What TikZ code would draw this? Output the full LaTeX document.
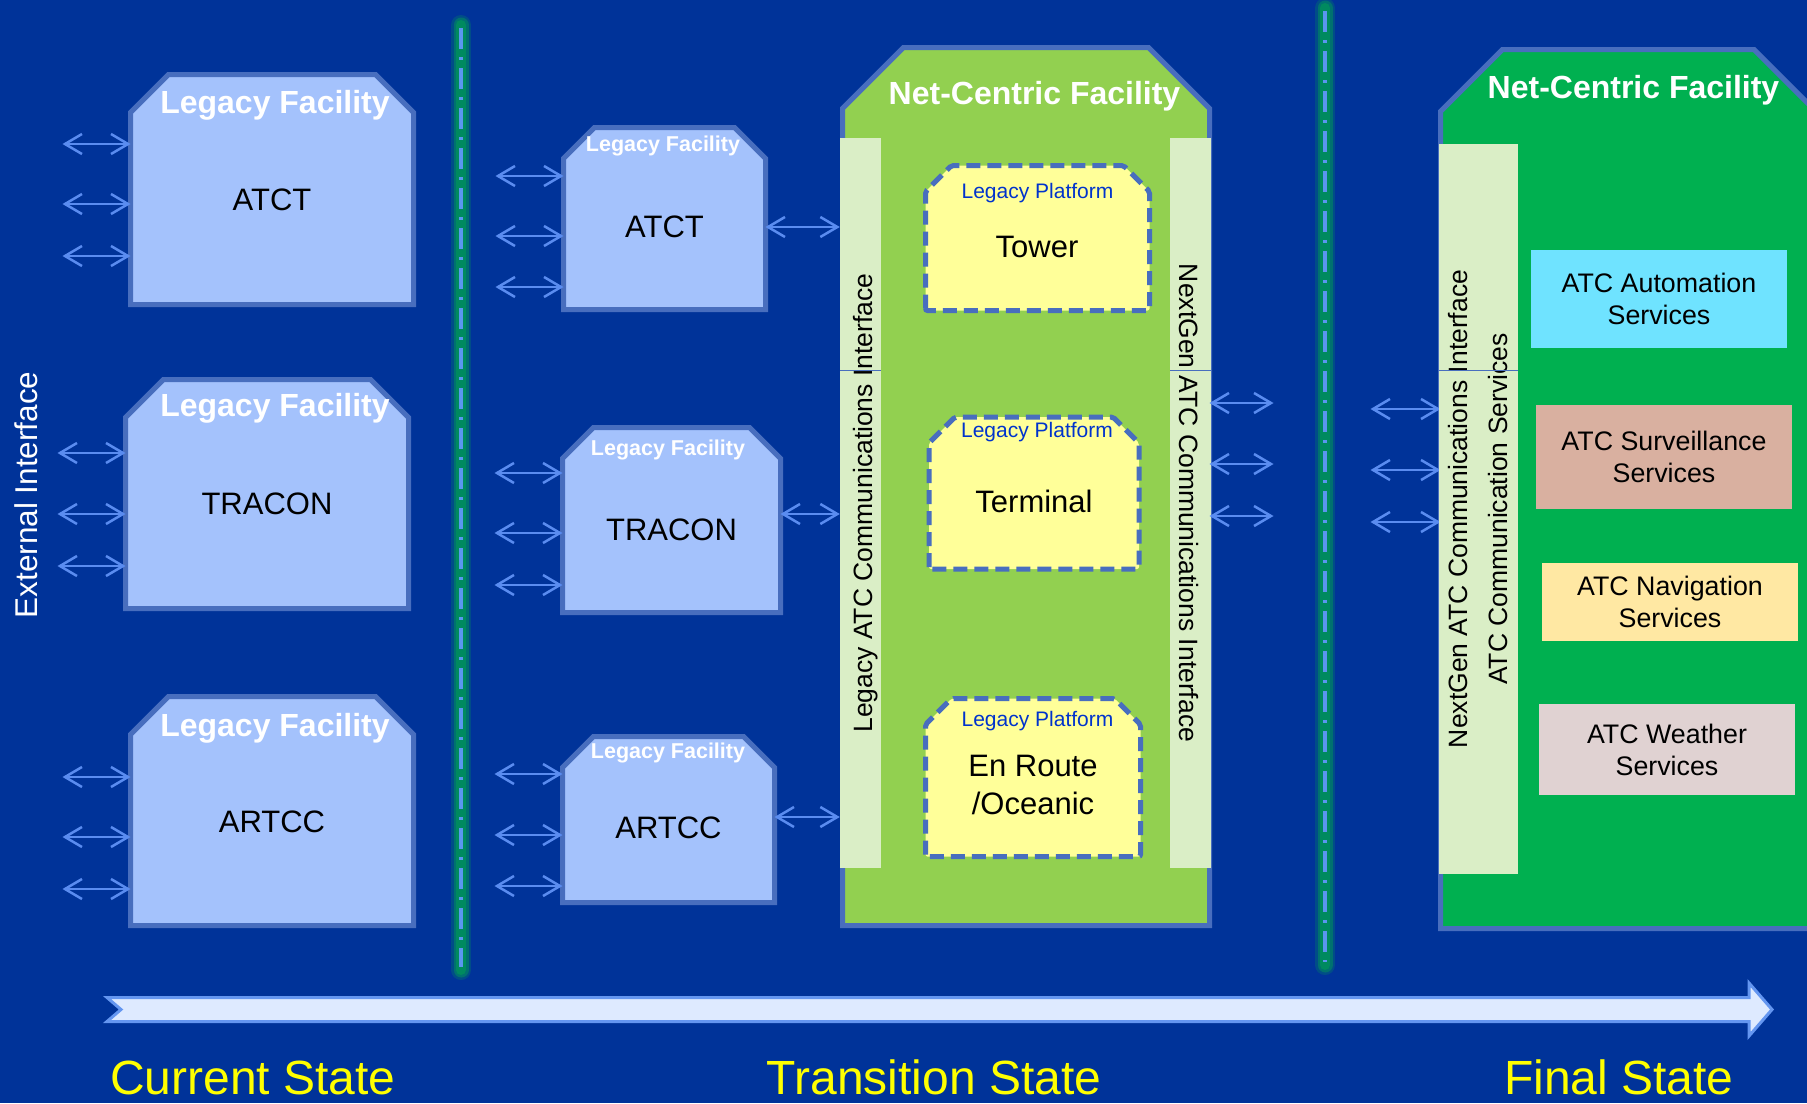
\documentclass[tikz,border=0pt]{standalone}
\usepackage{fontspec}
\setmainfont{Liberation Sans}
\usetikzlibrary{arrows.meta}

\definecolor{bgblue}{RGB}{0,51,153}
\definecolor{edgeblue}{RGB}{72,110,190}
\definecolor{legacyfill}{RGB}{164,194,252}
\definecolor{linkblue}{RGB}{90,140,240}
\definecolor{netgreen}{RGB}{146,208,80}
\definecolor{finalgreen}{RGB}{0,176,80}
\definecolor{stripgreen}{RGB}{218,238,198}
\definecolor{platfill}{RGB}{255,255,153}
\definecolor{plattext}{RGB}{0,51,204}
\definecolor{autocyan}{RGB}{111,227,255}
\definecolor{survtan}{RGB}{217,176,160}
\definecolor{navcream}{RGB}{255,232,163}
\definecolor{wxgray}{RGB}{224,210,210}
\definecolor{glowgreen}{RGB}{0,138,95}
\definecolor{dashblue}{RGB}{90,150,240}
\definecolor{timefill}{RGB}{222,234,255}
\definecolor{timeedge}{RGB}{100,150,240}
\definecolor{stateyellow}{RGB}{255,255,0}

\newcommand{\pxfont}[2]{\fontsize{#1}{#2}\selectfont}
% outline with the two upper corners cut off: node name, cut, style
\newcommand{\cutbox}[3]{%
	\draw [#3] (#1.south west) -- ([yshift=-#2]#1.north west) -- ([xshift=#2]#1.north west)
		-- ([xshift=-#2]#1.north east) -- ([yshift=-#2]#1.north east) -- (#1.south east) -- cycle;}

\tikzset{
	frame/.style = {rectangle, inner sep = 0pt, outer sep = 0pt},
	outline/.style = {draw = edgeblue, line width = 5pt, line join = miter},
	legacy outline/.style = {outline, fill = legacyfill},
	platform outline/.style = {outline, fill = platfill, dash pattern = on 14pt off 7pt, rounded corners = 2pt},
	strip/.style = {rectangle, fill = stripgreen, inner sep = 0pt, minimum width = 730pt, font = \pxfont{26.5}{40}, align = center},
	strip text/.style = {text height = 23pt, text depth = 0pt},
	service/.style = {rectangle, minimum width = 256pt, inner sep = 0pt, align = center, font = \pxfont{26.8}{32}},
	big title/.style = {text = white, font = \bfseries\pxfont{32}{38}},
	small title/.style = {text = white, font = \bfseries\pxfont{21.5}{26}},
	site name/.style = {font = \pxfont{31}{37.5}, align = center},
	platform title/.style = {text = plattext, font = \pxfont{21}{25}},
	link/.style = {<->, draw = linkblue, line width = 2.5pt},
	state/.style = {text = stateyellow, font = \pxfont{48}{57}, anchor = base},
}

\begin{document}
\begin{tikzpicture}[x = 1pt, y = -1pt, >={Straight Barb[length=17pt, width=20pt]}]
	\useasboundingbox (0,0) rectangle (1807,1103);
	\fill [bgblue] (0,0) rectangle (1807,1103);

	\begin{scope}[line cap = round]
		\foreach \x/\ya/\yb in {461/25/970, 1325/8/965} {
			\draw [glowgreen, opacity = 0.3, line width = 20pt] (\x,\ya) -- (\x,\yb);
			\draw [glowgreen, opacity = 0.6, line width = 15pt] (\x,\ya) -- (\x,\yb);
			\draw [glowgreen, line width = 10pt] (\x,\ya) -- (\x,\yb);
			\draw [dashblue, line width = 4.5pt, line cap = butt, dash pattern = on 21pt off 8pt on 3pt off 8pt] (\x,\ya+3) -- (\x,\yb-3);
		}
	\end{scope}

	\node [rotate = 90, text = white, font = \pxfont{31.5}{37}] (extIf) at (26,495) {External Interface};

	\begin{scope}
		\node [frame, minimum width = 283pt, minimum height = 230pt] (atctCur) at (272,189.5) {};
		\node [frame, minimum width = 283pt, minimum height = 229pt] (traconCur) at (267,494) {};
		\node [frame, minimum width = 283pt, minimum height = 229pt] (artccCur) at (272,811) {};
		\foreach \n in {atctCur, traconCur, artccCur} \cutbox{\n}{38pt}{legacy outline};

		\node [big title] (atctCurTitle) at (275,105) {Legacy Facility};
		\node [big title] (traconCurTitle) at (275,408) {Legacy Facility};
		\node [big title] (artccCurTitle) at (275,728) {Legacy Facility};

		\node [site name] (atctCurName) at (272,200) {ATCT};
		\node [site name] (traconCurName) at (267,503.5) {TRACON};
		\node [site name] (artccCurName) at (272,822) {ARTCC};

		\foreach \y in {144,204,256} \draw [link] (atctCur.west |- 0,\y) -- ++(-68,0);
		\foreach \y in {453,514,566} \draw [link] (traconCur.west |- 0,\y) -- ++(-68,0);
		\foreach \y in {777,837,889} \draw [link] (artccCur.west |- 0,\y) -- ++(-68,0);
	\end{scope}

	\begin{scope}
		\node [frame, minimum width = 367pt, minimum height = 878pt] (ncMid) at (1026,486.5) {};
		\cutbox{ncMid}{61pt}{outline, fill = netgreen}
		\node [big title] (ncMidTitle) at (1034.5,96) {Net-Centric Facility};

		\node [strip, strip text, rotate = 90, minimum height = 41pt] (legacyIf) at (860.5,503) {Legacy ATC Communications Interface};
		\node [strip, strip text, rotate = -90, minimum height = 41pt] (nextgenIf) at (1190.5,503) {NextGen ATC Communications Interface};
		\draw [edgeblue, line width = 1pt] (840,370) -- (881,370);
		\draw [edgeblue, line width = 1pt] (1170,370) -- (1211,370);

		\node [frame, minimum width = 224pt, minimum height = 145pt] (tower) at (1037.5,238) {};
		\node [frame, minimum width = 210pt, minimum height = 152pt] (terminal) at (1034,493) {};
		\node [frame, minimum width = 215pt, minimum height = 158pt] (enroute) at (1033,777.5) {};
		\foreach \n in {tower, terminal, enroute} \cutbox{\n}{26pt}{platform outline};

		\node [platform title] (towerTitle) at (1037.5,193.5) {Legacy Platform};
		\node [platform title] (terminalTitle) at (1037,432) {Legacy Platform};
		\node [platform title] (enrouteTitle) at (1037.5,721.5) {Legacy Platform};

		\node [site name] (towerName) at (1037,246.5) {Tower};
		\node [site name] (terminalName) at (1034,501) {Terminal};
		\node [site name] (enrouteName) at (1033,785) {En Route\\/Oceanic};
	\end{scope}

	\begin{scope}
		\node [frame, minimum width = 202pt, minimum height = 182pt] (atctMid) at (664.5,218.5) {};
		\node [frame, minimum width = 218pt, minimum height = 185pt] (traconMid) at (671.5,520) {};
		\node [frame, minimum width = 212pt, minimum height = 166pt] (artccMid) at (668.5,819.5) {};
		\foreach \n in {atctMid, traconMid, artccMid} \cutbox{\n}{31pt}{legacy outline};

		\node [small title] (atctMidTitle) at (663,145.5) {Legacy Facility};
		\node [small title] (traconMidTitle) at (668,450) {Legacy Facility};
		\node [small title] (artccMidTitle) at (668,753) {Legacy Facility};

		\node [site name] (atctMidName) at (664.5,227) {ATCT};
		\node [site name] (traconMidName) at (671.5,529.5) {TRACON};
		\node [site name] (artccMidName) at (668.5,828) {ARTCC};

		\foreach \y in {176,236,287} \draw [link] (atctMid.west |- 0,\y) -- ++(-68,0);
		\foreach \y in {473,533,585} \draw [link] (traconMid.west |- 0,\y) -- ++(-68,0);
		\foreach \y in {774,835,886} \draw [link] (artccMid.west |- 0,\y) -- ++(-68,0);

		\draw [link] (atctMid.east |- 0,227) -- (legacyIf.north |- 0,227);
		\draw [link] (traconMid.east |- 0,514) -- (legacyIf.north |- 0,514);
		\draw [link] (artccMid.east |- 0,817) -- (legacyIf.north |- 0,817);
	\end{scope}

	\foreach \y in {403,464,516} \draw [link] (ncMid.east |- 0,\y) -- ++(64,0);

	\begin{scope}
		\node [frame, minimum width = 375.5pt, minimum height = 879pt] (ncFinal) at (1628.25,489) {};
		\cutbox{ncFinal}{62pt}{outline, fill = finalgreen}
		\node [big title] (ncFinalTitle) at (1633.5,90) {Net-Centric Facility};

		\foreach \y in {409,470,522} \draw [link] (ncFinal.west |- 0,\y) -- ++(-70,0);

		\node [strip, rotate = 90, minimum height = 79pt] (finalIf) at (1478.5,509) {NextGen ATC Communications Interface\\ATC Communication Services};
		\draw [edgeblue, line width = 1pt] (1439,370) -- (1518,370);

		\node [service, fill = autocyan, minimum height = 98pt] (automation) at (1659,299) {ATC Automation\\Services};
		\node [service, fill = survtan, minimum height = 104pt] (surveillance) at (1664,457) {ATC Surveillance\\Services};
		\node [service, fill = navcream, minimum height = 78pt] (navigation) at (1670,602) {ATC Navigation\\Services};
		\node [service, fill = wxgray, minimum height = 91pt] (weather) at (1667,749.5) {ATC Weather\\Services};
	\end{scope}

	\draw [timeedge, fill = timefill, line width = 3pt] (107,997.5) -- (1749,997.5) -- (1749,983) -- (1772,1009.5) -- (1749,1036) -- (1749,1021.5) -- (107,1021.5) -- (121,1009.5) -- cycle;

	\node [state] (current) at (253,1094) {Current State};
	\node [state] (transition) at (934,1094) {Transition State};
	\node [state] (final) at (1619,1094) {Final State};
\end{tikzpicture}
\end{document}
